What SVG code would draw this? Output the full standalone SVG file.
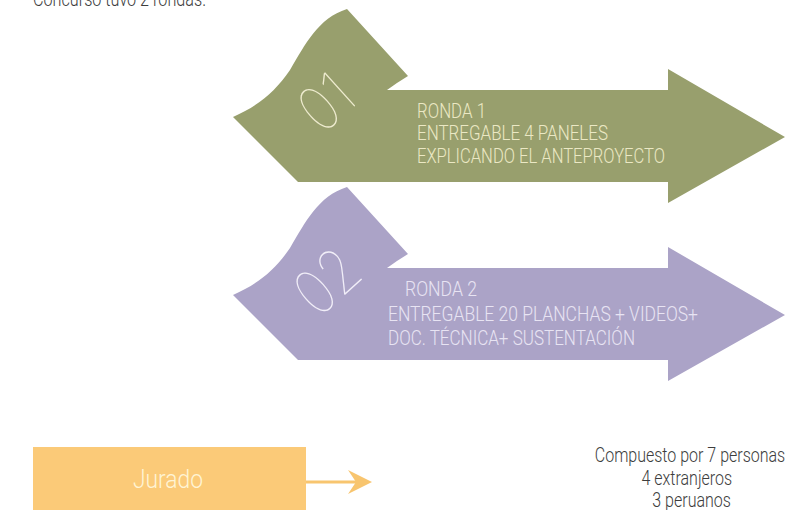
<svg xmlns="http://www.w3.org/2000/svg" width="799" height="510" viewBox="0 0 799 510">
  <style>
    .cond { font-family: "Roboto", "Liberation Sans", "DejaVu Sans", sans-serif; font-weight: 300; }
    .green-text { fill: #ebe8c4; font-size: 20px; }
    .purple-text { fill: #e8e4f3; font-size: 21px; }
    .num { font-family: "Inter", "Roboto", "Lato", "DejaVu Sans", sans-serif; font-weight: 100; font-size: 62px; }
    .info { fill: #3d3d3d; font-size: 20px; }
  </style>
  <defs>
    <path id="flagArrow" d="M347,9 L408,76 Q398,82 387,90 L668,90 L668,69 L785,137 L668,203 L668,182 L298,182 L233,117 C258,106 275,92 290,70 C305,45 318,18 347,9 Z"/>
    <marker id="head" viewBox="0 0 24 24" markerWidth="24" markerHeight="24" refX="8" refY="12" orient="auto" markerUnits="userSpaceOnUse">
      <path d="M0,0 L24,12 L0,24 L8,12 Z" fill="#f8c56f"/>
    </marker>
  </defs>

  <g id="title">
    <text class="cond info" x="33" y="6" textLength="173" lengthAdjust="spacingAndGlyphs" fill="#555">Concurso tuvo 2 rondas.</text>
  </g>

  <g id="round1">
    <use href="#flagArrow" fill="#989f6d"/>
    <text class="num" fill="#efecd0" text-anchor="middle" transform="translate(326,102) rotate(-42) scale(0.85,1)" dy="0.36em">01</text>
    <text class="cond green-text" x="417" y="118" textLength="69" lengthAdjust="spacingAndGlyphs">RONDA 1</text>
    <text class="cond green-text" x="417" y="140" textLength="191" lengthAdjust="spacingAndGlyphs">ENTREGABLE 4 PANELES</text>
    <text class="cond green-text" x="417" y="163" textLength="248" lengthAdjust="spacingAndGlyphs">EXPLICANDO EL ANTEPROYECTO</text>
  </g>

  <g id="round2">
    <use href="#flagArrow" fill="#aba3c7" transform="translate(0,178)"/>
    <text class="num" fill="#f1eef8" text-anchor="middle" transform="translate(327,281) rotate(-42) scale(0.85,1)" dy="0.36em">02</text>
    <text class="cond purple-text" x="405" y="296" textLength="72" lengthAdjust="spacingAndGlyphs">RONDA 2</text>
    <text class="cond purple-text" x="388" y="321" textLength="310" lengthAdjust="spacingAndGlyphs">ENTREGABLE 20 PLANCHAS + VIDEOS+</text>
    <text class="cond purple-text" x="388" y="345" textLength="247" lengthAdjust="spacingAndGlyphs">DOC. TÉCNICA+ SUSTENTACIÓN</text>
  </g>

  <g id="jurado">
    <rect x="33" y="447" width="273" height="70" fill="#fbca78"/>
    <text class="cond" x="168" y="488" text-anchor="middle" font-size="25" fill="#fff4d4" textLength="70" lengthAdjust="spacingAndGlyphs">Jurado</text>
  </g>

  <g id="connectors">
    <line x1="306" y1="482" x2="356" y2="482" stroke="#f8c56f" stroke-width="3" marker-end="url(#head)"/>
  </g>

  <g id="composition" transform="translate(690,0) scale(0.8,1)">
    <text class="cond info" x="0" y="462" text-anchor="middle">Compuesto por 7 personas</text>
    <text class="cond info" x="-4" y="485" text-anchor="middle">4 extranjeros</text>
    <text class="cond info" x="2" y="507" text-anchor="middle">3 peruanos</text>
  </g>
</svg>
